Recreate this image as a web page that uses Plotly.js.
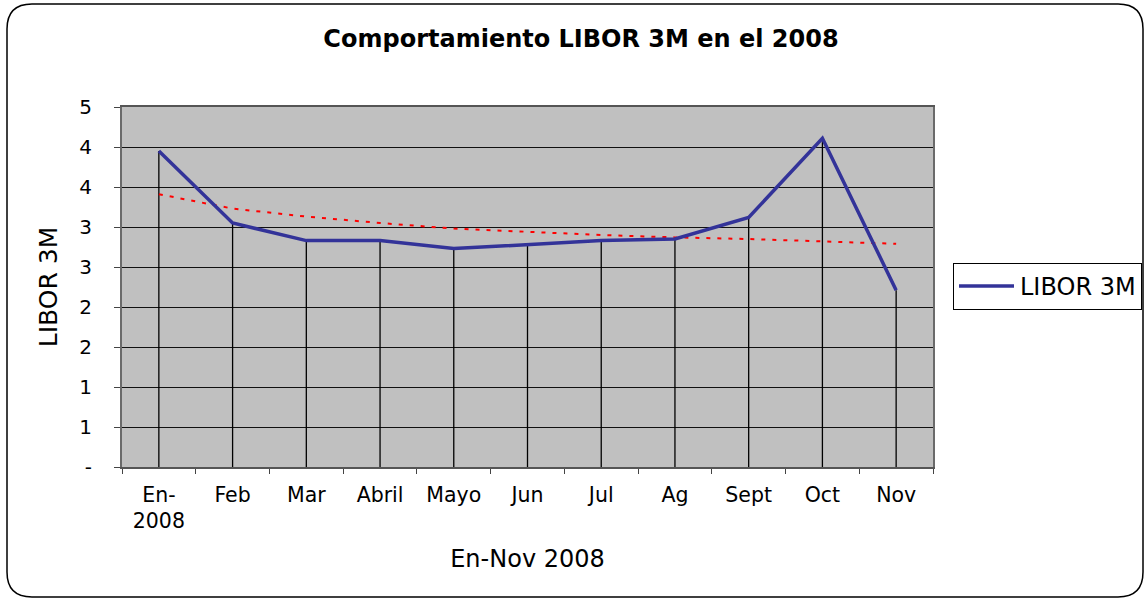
<!DOCTYPE html>
<html>
<head>
<meta charset="utf-8">
<script src="https://cdn.plot.ly/plotly-3.0.1.min.js"></script>
<style>
  html, body { margin: 0; padding: 0; background: #ffffff; }
  #chart { width: 1145px; height: 599px; }
</style>
</head>
<body>
<div id="chart"></div>
<script>
// ---- Data ----
const months = ['En-<br>2008', 'Feb', 'Mar', 'Abril', 'Mayo', 'Jun', 'Jul', 'Ag', 'Sept', 'Oct', 'Nov'];
const libor3m = [3.95, 3.05, 2.83, 2.83, 2.73, 2.78, 2.83, 2.85, 3.12, 4.11, 2.21];
const trendValues = [3.41, 3.23, 3.13, 3.05, 2.98, 2.94, 2.90, 2.87, 2.85, 2.82, 2.79];
const yTickVals = [0, 0.5, 1, 1.5, 2, 2.5, 3, 3.5, 4, 4.5];
const yTickText = ['-', '1', '1', '2', '2', '3', '3', '4', '4', '5'];

// ---- Layout geometry (pixels) ----
const W = 1145, H = 599;
const M = { l: 122, r: 212, t: 107, b: 132, autoexpand: false };
const plotW = W - M.l - M.r, plotH = H - M.t - M.b;
const PX = px => (px - M.l) / plotW;
const PY = py => (H - M.b - py) / plotH;

const FONT = 'DejaVu Sans, Verdana, sans-serif';

// drop lines from each point down to the axis
const dropX = [], dropY = [];
months.forEach((m, i) => { dropX.push(m, m, null); dropY.push(0, libor3m[i], null); });

const traces = [
  {
    x: dropX, y: dropY, type: 'scatter', mode: 'lines',
    line: { color: '#000000', width: 1.3 },
    showlegend: false, hoverinfo: 'skip'
  },
  {
    x: months, y: trendValues, type: 'scatter', mode: 'lines',
    line: { color: '#FF0000', width: 2, dash: '4px,7px' },
    showlegend: false, hoverinfo: 'skip', name: 'Tendencia'
  },
  {
    x: months, y: libor3m, type: 'scatter', mode: 'lines',
    name: 'LIBOR 3M',
    line: { color: '#333399', width: 3.5 }
  }
];

// rounded outer border
const bx0 = 7, bx1 = 1143, by0 = 4, by1 = 597, r = 25;
const borderPath =
  `M ${PX(bx0 + r)},${PY(by0)} L ${PX(bx1 - r)},${PY(by0)} ` +
  `Q ${PX(bx1)},${PY(by0)} ${PX(bx1)},${PY(by0 + r)} ` +
  `L ${PX(bx1)},${PY(by1 - r)} ` +
  `Q ${PX(bx1)},${PY(by1)} ${PX(bx1 - r)},${PY(by1)} ` +
  `L ${PX(bx0 + r)},${PY(by1)} ` +
  `Q ${PX(bx0)},${PY(by1)} ${PX(bx0)},${PY(by1 - r)} ` +
  `L ${PX(bx0)},${PY(by0 + r)} ` +
  `Q ${PX(bx0)},${PY(by0)} ${PX(bx0 + r)},${PY(by0)} Z`;

const layout = {
  width: W, height: H,
  margin: M,
  paper_bgcolor: '#FFFFFF',
  plot_bgcolor: '#C0C0C0',
  font: { family: FONT, size: 20, color: '#000000' },
  title: {
    text: '<b>Comportamiento LIBOR 3M en el 2008</b>',
    font: { family: FONT, size: 24, color: '#000000' },
    xref: 'container', yref: 'container',
    x: 581 / W, xanchor: 'center',
    y: 1 - 39 / H, yanchor: 'middle'
  },
  xaxis: {
    type: 'category',
    range: [-0.5, months.length - 0.5],
    tickson: 'boundaries',
    ticks: 'outside', ticklen: 5, tickcolor: '#444444', tickwidth: 1,
    ticklabelstandoff: 8,
    showgrid: false,
    showline: true, linecolor: '#555555', linewidth: 2, mirror: true,
    zeroline: false,
    tickfont: { family: FONT, size: 20.5, color: '#000000' },
    title: { text: 'En-Nov 2008', font: { family: FONT, size: 24, color: '#000000' }, standoff: 18 }
  },
  yaxis: {
    range: [0, 4.5],
    tickmode: 'array', tickvals: yTickVals, ticktext: yTickText,
    ticks: 'outside', ticklen: 6, tickcolor: '#444444', tickwidth: 1,
    ticklabelstandoff: 18,
    showgrid: true, gridcolor: '#111111', gridwidth: 1,
    showline: true, linecolor: '#6a6a6a', linewidth: 2, mirror: true,
    zeroline: false,
    tickfont: { family: FONT, size: 20, color: '#000000' },
    title: { text: 'LIBOR 3M', font: { family: FONT, size: 25, color: '#000000' }, standoff: 15 }
  },
  showlegend: true,
  legend: {
    x: PX(953), xanchor: 'left',
    y: PY(286.5), yanchor: 'middle',
    itemwidth: 56,
    bgcolor: '#FFFFFF', bordercolor: '#000000', borderwidth: 1,
    font: { family: FONT, size: 24, color: '#000000' }
  },
  shapes: [
    {
      type: 'path', xref: 'paper', yref: 'paper', path: borderPath,
      line: { color: '#000000', width: 1.5 }, fillcolor: 'rgba(0,0,0,0)', layer: 'below'
    }
  ]
};

Plotly.newPlot('chart', traces, layout, { displayModeBar: false, staticPlot: true }).then(gd => {
  // lengthen the legend line sample to match the wider symbol area
  gd.querySelectorAll('.legendlines path').forEach(p => p.setAttribute('d', 'M5,0h55'));
});
</script>
</body>
</html>
